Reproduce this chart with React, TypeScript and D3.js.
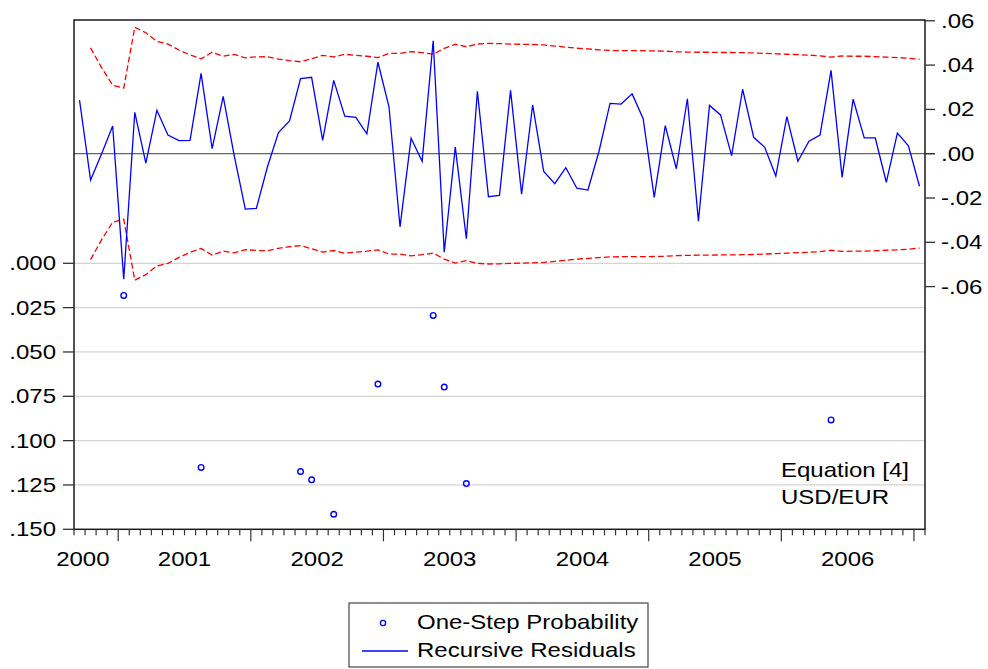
import React from "react";
import * as d3 from "d3";

// ---- data ----
const startMonth = new Date(2000, 8, 1); // 2000M09
const endMonth = new Date(2007, 1, 1); // exclusive, last obs 2007M01
const months = d3.timeMonth.range(startMonth, endMonth);

const residuals = [
  0.0242, -0.0119, 0.0, 0.0125, -0.0567, 0.0187, -0.0043, 0.0196, 0.0084, 0.0059,
  0.006, 0.0363, 0.0023, 0.0259, -0.001, -0.025, -0.0247, -0.006, 0.0095, 0.0148,
  0.0339, 0.0345, 0.006, 0.0331, 0.0169, 0.0164, 0.009, 0.0413, 0.0212, -0.033,
  0.007, -0.0034, 0.051, -0.0445, 0.003, -0.0384, 0.0282, -0.0194, -0.0188, 0.0286,
  -0.0183, 0.022, -0.008, -0.0135, -0.0063, -0.0156, -0.0164, 0.001, 0.0227, 0.0224,
  0.027, 0.0158, -0.0197, 0.0127, -0.0068, 0.0248, -0.0305, 0.0218, 0.0175, -0.0009,
  0.0291, 0.0074, 0.0029, -0.0101, 0.0167, -0.0034, 0.0056, 0.0084, 0.0376, -0.0107,
  0.0246, 0.0071, 0.0071, -0.0129, 0.0093, 0.0036, -0.0147,
];

// two standard error band (plotted as +/-)
const twoSE: (number | null)[] = [
  null, 0.0478, 0.0388, 0.0309, 0.0296, 0.0571, 0.0546, 0.0507, 0.0495, 0.0468,
  0.0446, 0.0428, 0.0458, 0.044, 0.0448, 0.0433, 0.0437, 0.0438, 0.0427, 0.042,
  0.0415, 0.0429, 0.0444, 0.0437, 0.0449, 0.0444, 0.044, 0.0434, 0.0453, 0.0453,
  0.0461, 0.0456, 0.0449, 0.0476, 0.0494, 0.0483, 0.0495, 0.0498, 0.0497, 0.0495,
  0.0494, 0.0493, 0.0491, 0.0486, 0.0481, 0.0476, 0.0473, 0.0469, 0.0466, 0.0465,
  0.0465, 0.0465, 0.0464, 0.0463, 0.046, 0.0459, 0.0458, 0.0458, 0.0457, 0.0457,
  0.0456, 0.0455, 0.0453, 0.0451, 0.0449, 0.0447, 0.0445, 0.0442, 0.0436, 0.0441,
  0.044, 0.044, 0.0438, 0.0436, 0.0434, 0.0431, 0.0426,
];

const probDates = [
  "2001-01", "2001-08", "2002-05", "2002-06", "2002-08",
  "2002-12", "2003-05", "2003-06", "2003-08", "2006-05",
];
const probValues = [0.0181, 0.1151, 0.1174, 0.1221, 0.1415, 0.0681, 0.0294, 0.0698, 0.1242, 0.0883];

const leftTicks = [0, 0.025, 0.05, 0.075, 0.1, 0.125, 0.15];
const rightTicks = [0.06, 0.04, 0.02, 0, -0.02, -0.04, -0.06];
const years = [2000, 2001, 2002, 2003, 2004, 2005, 2006];
const noteLines = ["Equation [4]", "USD/EUR"];
const legendLabels = ["One-Step Probability", "Recursive Residuals"];

// ---- layout ----
const W = 988;
const H = 669;
const L = 74;
const R = 925;
const T = 20;
const B = 529.3;
const FONT = "'Liberation Sans', Arial, Helvetica, sans-serif";
const FS = 20;
const SX = 1.2;

const fmt = (d: number, p: number) => {
  const s = Math.abs(d).toFixed(p).replace(/^0\./, ".");
  return d < 0 ? "-" + s : s;
};

export default function App() {
  const x = d3.scaleBand<number>().domain(d3.range(months.length)).range([L, R]).padding(0);
  const bw = x.bandwidth();
  const cx = (i: number) => (x(i) as number) + bw / 2;

  // right axis: residuals
  const yR = d3.scaleLinear().domain([-0.06, 0.06]).range([286.6, 20.8]);
  // left axis: probability (inverted)
  const yL = d3.scaleLinear().domain([0, 0.15]).range([263.3, B]);

  const fmtMonth = d3.timeFormat("%Y-%m");
  const idxOf = (s: string) => months.findIndex((m) => fmtMonth(m) === s);

  const resLine = d3
    .line<number>()
    .x((_, i) => cx(i))
    .y((d) => yR(d))(residuals);

  const bandLine = (sign: number) =>
    d3
      .line<number | null>()
      .defined((d) => d !== null)
      .x((_, i) => cx(i))
      .y((d) => yR(sign * (d as number)))(twoSE);

  const boundaries = d3.range(months.length + 1);
  const isJan = (i: number) => i < months.length && months[i].getMonth() === 0;

  const yearLabelX = (yr: number) => {
    const i = months.findIndex((m) => m.getFullYear() === yr && m.getMonth() === 0);
    if (i >= 0) return (x(i) as number) + 6 * bw;
    return L + 0.8 * bw;
  };

  const stretched = (px: number, py: number) => `translate(${px},${py}) scale(${SX},1)`;

  return (
    <svg
      width={W}
      height={H}
      style={{ position: "absolute", left: 0, top: 0, background: "#fff" }}
      fontFamily={FONT}
    >
      <rect x={0} y={0} width={W} height={H} fill="#fff" />
      {/* grid */}
      {leftTicks.slice(0, -1).map((t) => (
        <line key={"g" + t} x1={L} x2={R} y1={yL(t)} y2={yL(t)} stroke="#d4d4d4" strokeWidth={1.2} />
      ))}
      {/* zero line */}
      <line x1={L} x2={R + 10} y1={yR(0)} y2={yR(0)} stroke="#666" strokeWidth={1.3} />

      {/* bands */}
      <path d={bandLine(1) || ""} fill="none" stroke="#ff0000" strokeWidth={1.3} strokeDasharray="6,3" />
      <path d={bandLine(-1) || ""} fill="none" stroke="#ff0000" strokeWidth={1.3} strokeDasharray="6,3" />

      {/* residuals */}
      <path d={resLine || ""} fill="none" stroke="#0000ff" strokeWidth={1.3} />

      {/* probabilities */}
      {probDates.map((d, k) => (
        <circle key={d} cx={cx(idxOf(d))} cy={yL(probValues[k])} r={2.8} fill="none" stroke="#0000ff" strokeWidth={1.4} />
      ))}

      {/* frame */}
      <rect x={L} y={T} width={R - L} height={B - T} fill="none" stroke="#1a1a1a" strokeWidth={1.5} />

      {/* left axis ticks */}
      {leftTicks.map((t) => (
        <g key={"l" + t}>
          <line x1={L - 11} x2={L} y1={yL(t)} y2={yL(t)} stroke="#333" strokeWidth={1.3} />
          <text transform={stretched(56, yL(t) + 7)} textAnchor="end" fontSize={FS} fill="#000">
            {fmt(t, 3)}
          </text>
        </g>
      ))}

      {/* right axis ticks */}
      {rightTicks.map((t) => (
        <g key={"r" + t}>
          <line x1={R} x2={R + 10} y1={yR(t)} y2={yR(t)} stroke="#333" strokeWidth={1.3} />
          <text transform={stretched(941, yR(t) + 7)} textAnchor="start" fontSize={FS} fill="#000">
            {fmt(t, 2)}
          </text>
        </g>
      ))}

      {/* bottom axis ticks */}
      {boundaries.map((i) => {
        const px = i < months.length ? (x(i) as number) : R;
        const major = isJan(i);
        return (
          <line key={"b" + i} x1={px} x2={px} y1={B} y2={B + (major ? 12 : 6)} stroke="#333" strokeWidth={1.2} />
        );
      })}
      {years.map((yr) => (
        <text key={yr} transform={stretched(yearLabelX(yr), 565.5)} textAnchor="middle" fontSize={FS} fill="#000">
          {yr}
        </text>
      ))}

      {/* note */}
      {noteLines.map((s, k) => (
        <text key={s} transform={stretched(781, 477 + k * 26.7)} textAnchor="start" fontSize={FS} fill="#000">
          {s}
        </text>
      ))}

      {/* legend */}
      <rect x={349} y={603} width={299} height={64} fill="#fff" stroke="#444" strokeWidth={1.2} />
      <circle cx={383} cy={623} r={2.6} fill="none" stroke="#0000ff" strokeWidth={1.3} />
      <line x1={362} x2={408} y1={651} y2={651} stroke="#0000ff" strokeWidth={1.3} />
      {legendLabels.map((s, k) => (
        <text key={s} transform={stretched(417, 629 + k * 28.2)} textAnchor="start" fontSize={FS} fill="#000">
          {s}
        </text>
      ))}
    </svg>
  );
}
